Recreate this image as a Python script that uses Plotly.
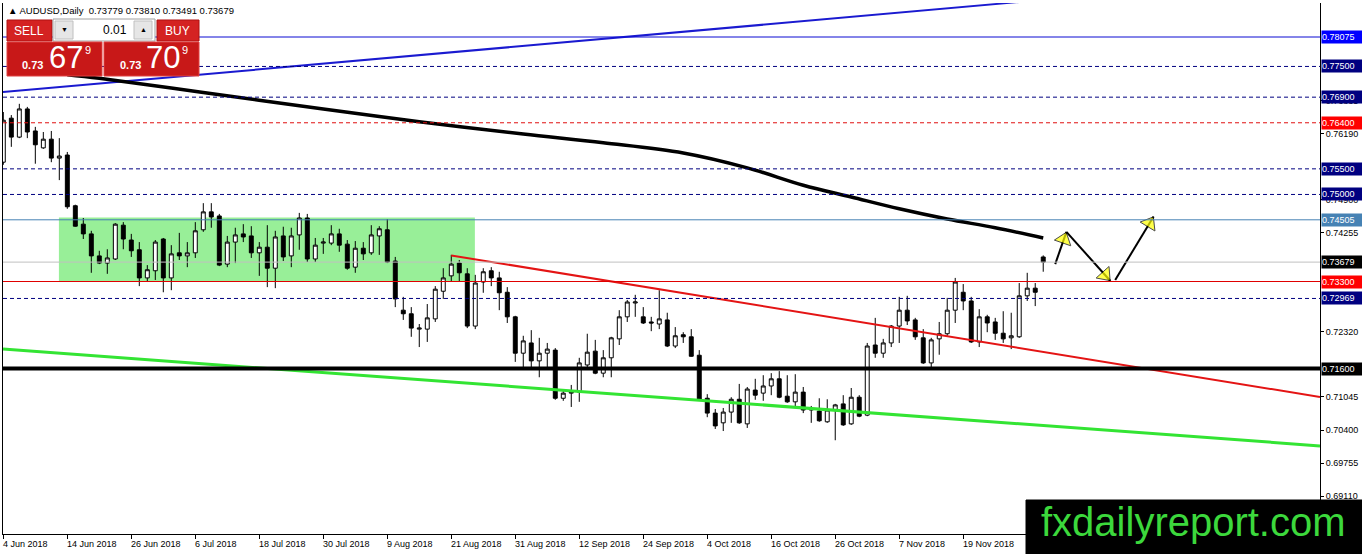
import plotly.graph_objects as go
import pandas as pd

# AUDUSD daily bars, 4 Jun 2018 - 3 Dec 2018
dates = pd.bdate_range("2018-06-04", "2018-12-03")

opens = [0.7563, 0.7649, 0.7612, 0.7667, 0.7624, 0.7591, 0.7608, 0.7571, 0.7577, 0.7478,
         0.7442, 0.7423, 0.7380, 0.7366, 0.7374, 0.7440, 0.7411, 0.7392, 0.7337, 0.7351,
         0.7413, 0.7337, 0.7386, 0.7380, 0.7386, 0.7431, 0.7466, 0.7458, 0.7364, 0.7407,
         0.7423, 0.7419, 0.7386, 0.7397, 0.7356, 0.7419, 0.7380, 0.7421, 0.7454, 0.7374,
         0.7405, 0.7405, 0.7423, 0.7403, 0.7358, 0.7395, 0.7386, 0.7419, 0.7431, 0.7370,
         0.7274, 0.7267, 0.7237, 0.7237, 0.7257, 0.7311, 0.7341, 0.7366, 0.7345, 0.7243,
         0.7329, 0.7351, 0.7337, 0.7309, 0.7261, 0.7190, 0.7210, 0.7175, 0.7190, 0.7196,
         0.7102, 0.7112, 0.7114, 0.7167, 0.7194, 0.7151, 0.7181, 0.7218, 0.7261, 0.7288,
         0.7261, 0.7251, 0.7247, 0.7255, 0.7204, 0.7226, 0.7222, 0.7186, 0.7102, 0.7073,
         0.7054, 0.7075, 0.7100, 0.7052, 0.7118, 0.7112, 0.7126, 0.7140, 0.7106, 0.7095,
         0.7114, 0.7079, 0.7077, 0.7056, 0.7079, 0.7091, 0.7052, 0.7104, 0.7069, 0.7206,
         0.7190, 0.7210, 0.7243, 0.7274, 0.7255, 0.7220, 0.7171, 0.7218, 0.7228, 0.7274,
         0.7309, 0.7292, 0.7212, 0.7261, 0.7251, 0.7229, 0.7220, 0.7222, 0.7302, 0.7317,
         0.73779]
highs = [0.7661, 0.7655, 0.7677, 0.7671, 0.7632, 0.7622, 0.7624, 0.7610, 0.7583, 0.7480,
         0.7454, 0.7429, 0.7390, 0.7393, 0.7444, 0.7446, 0.7423, 0.7407, 0.7362, 0.7411,
         0.7415, 0.7401, 0.7425, 0.7407, 0.7446, 0.7483, 0.7483, 0.7462, 0.7419, 0.7435,
         0.7442, 0.7438, 0.7407, 0.7440, 0.7429, 0.7437, 0.7435, 0.7464, 0.7462, 0.7415,
         0.7415, 0.7440, 0.7433, 0.7411, 0.7409, 0.7407, 0.7440, 0.7438, 0.7452, 0.7378,
         0.7300, 0.7280, 0.7247, 0.7286, 0.7321, 0.7356, 0.7382, 0.7372, 0.7356, 0.7343,
         0.7356, 0.7358, 0.7349, 0.7319, 0.7263, 0.7224, 0.7235, 0.7220, 0.7210, 0.7200,
         0.7118, 0.7128, 0.7181, 0.7228, 0.7216, 0.7196, 0.7222, 0.7274, 0.7294, 0.7304,
         0.7280, 0.7261, 0.7313, 0.7269, 0.7241, 0.7231, 0.7237, 0.7196, 0.7110, 0.7081,
         0.7083, 0.7104, 0.7130, 0.7124, 0.7140, 0.7147, 0.7151, 0.7155, 0.7147, 0.7149,
         0.7124, 0.7087, 0.7102, 0.7100, 0.7091, 0.7108, 0.7122, 0.7108, 0.7210, 0.7259,
         0.7218, 0.7245, 0.7300, 0.7302, 0.7259, 0.7237, 0.7220, 0.7251, 0.7298, 0.7337,
         0.7325, 0.7300, 0.7276, 0.7265, 0.7259, 0.7272, 0.7269, 0.7327, 0.7347, 0.7327,
         0.73810]
lows = [0.7558, 0.7593, 0.7610, 0.7610, 0.7560, 0.7589, 0.7563, 0.7528, 0.7472, 0.7437,
        0.7413, 0.7347, 0.7364, 0.7345, 0.7372, 0.7393, 0.7378, 0.7321, 0.7329, 0.7333,
        0.7309, 0.7313, 0.7372, 0.7358, 0.7376, 0.7427, 0.7435, 0.7360, 0.7358, 0.7366,
        0.7407, 0.7376, 0.7341, 0.7319, 0.7317, 0.7370, 0.7358, 0.7392, 0.7368, 0.7368,
        0.7384, 0.7401, 0.7388, 0.7353, 0.7347, 0.7372, 0.7382, 0.7382, 0.7366, 0.7280,
        0.7255, 0.7222, 0.7202, 0.7212, 0.7251, 0.7296, 0.7331, 0.7331, 0.7239, 0.7237,
        0.7308, 0.7321, 0.7274, 0.7249, 0.7173, 0.7163, 0.7163, 0.7143, 0.7163, 0.7099,
        0.7097, 0.7085, 0.7095, 0.7163, 0.7149, 0.7143, 0.7143, 0.7206, 0.7251, 0.7261,
        0.7247, 0.7233, 0.7237, 0.7202, 0.7200, 0.7210, 0.7183, 0.7097, 0.7065, 0.7042,
        0.7038, 0.7054, 0.7052, 0.7044, 0.7099, 0.7097, 0.7108, 0.7102, 0.7093, 0.7085,
        0.7073, 0.7054, 0.7056, 0.7054, 0.7020, 0.7048, 0.7050, 0.7065, 0.7067, 0.7181,
        0.7181, 0.7202, 0.7210, 0.7245, 0.7216, 0.7169, 0.7163, 0.7187, 0.7224, 0.7249,
        0.7274, 0.7210, 0.7202, 0.7231, 0.7216, 0.7210, 0.7198, 0.7220, 0.7292, 0.7282,
        0.73491]
closes = [0.7645, 0.7612, 0.7667, 0.7622, 0.7597, 0.7608, 0.7571, 0.7575, 0.7476, 0.7438,
          0.7423, 0.7380, 0.7366, 0.7376, 0.7442, 0.7413, 0.7390, 0.7337, 0.7353, 0.7407,
          0.7337, 0.7384, 0.7380, 0.7386, 0.7429, 0.7466, 0.7456, 0.7362, 0.7407, 0.7421,
          0.7417, 0.7386, 0.7397, 0.7356, 0.7417, 0.7378, 0.7419, 0.7454, 0.7374, 0.7401,
          0.7407, 0.7423, 0.7401, 0.7356, 0.7395, 0.7384, 0.7421, 0.7433, 0.7368, 0.7296,
          0.7267, 0.7239, 0.7239, 0.7259, 0.7315, 0.7337, 0.7364, 0.7347, 0.7243, 0.7327,
          0.7349, 0.7337, 0.7308, 0.7261, 0.7190, 0.7214, 0.7175, 0.7190, 0.7198, 0.7102,
          0.7112, 0.7114, 0.7171, 0.7192, 0.7151, 0.7181, 0.7220, 0.7261, 0.7290, 0.7290,
          0.7249, 0.7249, 0.7257, 0.7204, 0.7224, 0.7222, 0.7184, 0.7100, 0.7073, 0.7048,
          0.7075, 0.7100, 0.7054, 0.7120, 0.7108, 0.7126, 0.7140, 0.7104, 0.7095, 0.7114,
          0.7079, 0.7081, 0.7058, 0.7079, 0.7089, 0.7050, 0.7104, 0.7067, 0.7204, 0.7190,
          0.7210, 0.7243, 0.7274, 0.7253, 0.7222, 0.7171, 0.7216, 0.7228, 0.7274, 0.7329,
          0.7292, 0.7212, 0.7261, 0.7249, 0.7229, 0.7218, 0.7224, 0.7302, 0.7317, 0.7309,
          0.73679]

# moving average (read at a few bars)
ma_idx = [8, 12, 25, 40, 52, 65, 75, 85, 93, 100, 106, 112, 118, 124, 130]
ma_val = [0.7734, 0.7727, 0.7699, 0.7667, 0.7642, 0.7618, 0.7601, 0.7581, 0.7552,
          0.7518, 0.7495, 0.7472, 0.7452, 0.7435, 0.7415]

# trend lines: bar index and price at both ends
blue_idx, blue_px = [-0.04, 130], [0.7700, 0.7880]
red_idx, red_px = [56, 164.6], [0.7381, 0.71045]
green_idx, green_px = [-0.04, 164.6], [0.7198, 0.7009]

# range box
box_idx = [6.95, 58.95]
box_px = [0.7330, 0.7455]

# horizontal levels
levels = [0.78075, 0.77500, 0.76900, 0.76400, 0.75500, 0.75000, 0.74505,
          0.73679, 0.73300, 0.72969, 0.71600]

# projected path arrows
arrow_idx = [[131.5, 132.9], [132.9, 138.4], [139.0, 143.8]]
arrow_px = [[0.7364, 0.7427], [0.7427, 0.7331], [0.7333, 0.7457]]

tick_dates = ["2018-06-04", "2018-06-14", "2018-06-26", "2018-07-06", "2018-07-18",
              "2018-07-30", "2018-08-09", "2018-08-21", "2018-08-31", "2018-09-12",
              "2018-09-24", "2018-10-04", "2018-10-16", "2018-10-26", "2018-11-07",
              "2018-11-19"]
tick_labels = ["4 Jun 2018", "14 Jun 2018", "26 Jun 2018", "6 Jul 2018", "18 Jul 2018",
               "30 Jul 2018", "9 Aug 2018", "21 Aug 2018", "31 Aug 2018", "12 Sep 2018",
               "24 Sep 2018", "4 Oct 2018", "16 Oct 2018", "26 Oct 2018", "7 Nov 2018",
               "19 Nov 2018"]
price_ticks = [0.76835, 0.76190, 0.74900, 0.74255, 0.72320, 0.71045, 0.70400,
               0.69755, 0.69110]

FONT = "Liberation Sans"
NAVY = "#000080"
level_style = [("#0a0ad2", 1, "solid", "#0000ff"), (NAVY, 1, "4px,3px", NAVY),
               (NAVY, 1, "4px,3px", NAVY), ("#e01010", 1, "4px,3px", "#ff0000"),
               (NAVY, 1, "4px,3px", NAVY), (NAVY, 1, "4px,3px", NAVY),
               ("#4682b4", 1, "solid", "#4682b4"), ("#c0c0c0", 1, "solid", "#000000"),
               ("#e00000", 1, "solid", "#ff0000"), (NAVY, 1, "4px,3px", NAVY),
               ("#000000", 4, "solid", "#000000")]

idx = list(range(len(dates)))
tick_idx = [dates.get_loc(pd.Timestamp(d)) for d in tick_dates]

fig = go.Figure()

fig.add_shape(type="rect", xref="x", yref="y", x0=box_idx[0], x1=box_idx[1],
              y0=box_px[0], y1=box_px[1], fillcolor="#98ef98", line_width=0, layer="below")

fig.add_trace(go.Candlestick(
    x=idx, open=opens, high=highs, low=lows, close=closes,
    increasing=dict(line=dict(color="black", width=1), fillcolor="white"),
    decreasing=dict(line=dict(color="black", width=1), fillcolor="black"),
    whiskerwidth=0, hoverinfo="skip"))

fig.add_trace(go.Scatter(x=blue_idx, y=blue_px, mode="lines",
                         line=dict(color="#1a1ad0", width=2)))
fig.add_trace(go.Scatter(x=ma_idx, y=ma_val, mode="lines",
                         line=dict(color="black", width=3.5, shape="spline")))
fig.add_trace(go.Scatter(x=red_idx, y=red_px, mode="lines",
                         line=dict(color="#e41414", width=2)))
fig.add_trace(go.Scatter(x=green_idx, y=green_px, mode="lines",
                         line=dict(color="#33e433", width=3)))

# arrows: line with a yellow head just before the tip
for (a, b), (pa, pb) in zip(arrow_idx, arrow_px):
    seg = ((b - a) * 8) ** 2 + ((pb - pa) / 0.0001953) ** 2
    f = 1 - 8 / seg ** 0.5
    fig.add_trace(go.Scatter(
        x=[a, a + f * (b - a), b], y=[pa, pa + f * (pb - pa), pb], mode="lines+markers",
        line=dict(color="black", width=2),
        marker=dict(symbol="triangle-up", size=[0, 15, 0], angleref="previous",
                    color="#ffff00", line=dict(color="black", width=1))))

for p, (col, w, dash, lab) in zip(levels, level_style):
    fig.add_shape(type="line", xref="paper", yref="y", x0=0, x1=1, y0=p, y1=p,
                  line=dict(color=col, width=w, dash=dash), layer="above")
    fig.add_annotation(x=1, xref="paper", y=p, yref="y", xanchor="left", xshift=1,
                       text=f"{p:.5f}", showarrow=False, bgcolor=lab, width=40, height=12,
                       align="left", borderpad=0, font=dict(family=FONT, size=9, color="white"))

for i, t in zip(tick_idx, tick_labels):
    fig.add_annotation(x=i, xref="x", y=0, yref="paper", yanchor="top", xanchor="left",
                       yshift=-3, xshift=-2, text=t, showarrow=False,
                       font=dict(family=FONT, size=9, color="black"))


# trading panel and watermark, placed in screen pixels
def px(x):
    return (x - 3) / 1317


def py(y):
    return (534 - y) / 531


def rect(x0, y0, x1, y1, fill, line=None):
    fig.add_shape(type="rect", xref="paper", yref="paper", x0=px(x0), x1=px(x1),
                  y0=py(y1), y1=py(y0), fillcolor=fill, layer="above",
                  line=dict(color=line or fill, width=1))


def text(x, y, s, size, color="white", anchor="center", family=FONT):
    fig.add_annotation(x=px(x), y=py(y), xref="paper", yref="paper", text=s,
                       xanchor=anchor, yanchor="middle", showarrow=False,
                       font=dict(family=family, size=size, color=color))


rect(7, 20, 52, 41, "#d42222", "#b01010")
rect(157, 20, 199, 41, "#d42222", "#b01010")
rect(53, 19, 155, 41, "white", "#a0a0a0")
rect(55, 21, 73, 39, "#e6e6e6", "#c0c0c0")
rect(134, 21, 152, 39, "#e6e6e6", "#c0c0c0")
rect(7, 42, 102, 76, "#c81818", "#e04040")
rect(104, 42, 199, 76, "#c81818", "#e04040")
text(29, 31, "SELL", 12)
text(177, 31, "BUY", 12)
text(64, 30, "▼", 7, "black")
text(143, 30, "▲", 7, "black")
text(129, 30, "0.01", 12, "black", "right")
text(32, 65, "<b>0.73</b>", 11)
text(66, 58, "67", 31)
text(88, 50, "9", 11)
text(130, 65, "<b>0.73</b>", 11)
text(163, 58, "70", 31)
text(185, 50, "9", 11)
text(6, 10, "▲ AUDUSD,Daily  0.73779 0.73810 0.73491 0.73679", 9.5, "black", "left")

rect(1026, 500, 1370, 560, "black")
text(1193, 522, "fxdailyreport.com", 40, "#3cd83c")

fig.update_xaxes(range=[-0.04, 164.6], tickvals=tick_idx, ticks="outside", ticklen=4,
                 tickcolor="black", showticklabels=False, showline=True, linecolor="black",
                 linewidth=1, showgrid=False, zeroline=False, rangeslider_visible=False)
fig.update_yaxes(range=[0.68369, 0.78739], side="right", tickvals=price_ticks,
                 ticktext=[f"{p:.5f}" for p in price_ticks], ticks="outside", ticklen=3,
                 tickcolor="black", tickfont=dict(family=FONT, size=9, color="black"),
                 showline=True, mirror=True, linecolor="black", linewidth=1,
                 showgrid=False, zeroline=False)
fig.update_layout(width=1362, height=554, showlegend=False, plot_bgcolor="white",
                  paper_bgcolor="white", hovermode=False,
                  margin=dict(l=3, r=42, t=3, b=20, autoexpand=False))

# page has a default body margin; drop it so the chart fills the window
fig.write_html("out.html", config={"displayModeBar": False},
               post_script="document.body.style.margin='0';")
